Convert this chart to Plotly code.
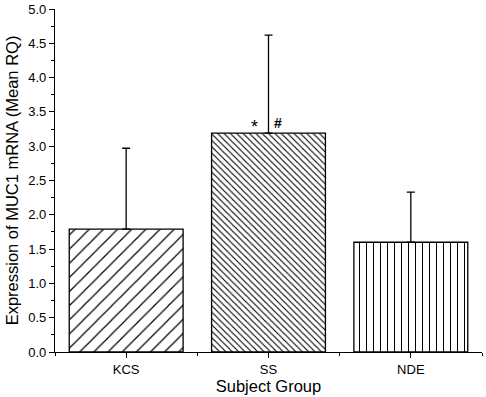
import plotly.graph_objects as go

categories = ["KCS", "SS", "NDE"]
means = [1.79, 3.19, 1.60]
errors_plus = [1.18, 1.43, 0.73]
significance_labels = ["*", "#"]

x_pos = list(range(len(categories)))
FONT = "Liberation Sans, Arial, sans-serif"

fig = go.Figure()
fig.add_trace(go.Bar(
    x=x_pos, y=means, width=0.8,
    marker=dict(
        color="white",
        line=dict(color="black", width=1.3),
        pattern=dict(shape=["/", "\\", "|"], size=[10, 4.5, 7],
                     solidity=[0.12, 0.25, 0.15],
                     fgcolor="black", bgcolor="white", fillmode="replace"),
    ),
    error_y=dict(type="data", symmetric=False, array=errors_plus,
                 arrayminus=[0] * len(means), color="black",
                 thickness=1.3, width=4),
    showlegend=False,
))

# significance markers above SS bar
fig.add_annotation(x=x_pos[1] - 0.1, y=means[1], text=significance_labels[0],
                   showarrow=False, yanchor="bottom", yshift=-6,
                   font=dict(family=FONT, size=18, color="black"))
fig.add_annotation(x=x_pos[1] + 0.065, y=means[1], text="<b>" + significance_labels[1] + "</b>",
                   showarrow=False, yanchor="bottom", yshift=0,
                   font=dict(family=FONT, size=14, color="black"))

fig.update_layout(
    width=486, height=397,
    margin=dict(l=55, r=4, t=9, b=45),
    paper_bgcolor="white", plot_bgcolor="white",
    font=dict(family=FONT, size=13, color="black"),
    bargap=0.2,
)
fig.update_xaxes(
    range=[-0.5, 2.5], tickvals=x_pos, ticktext=categories,
    showline=True, linecolor="black", linewidth=1.3,
    ticks="outside", ticklen=5, tickwidth=1.3, tickcolor="black",
    minor=dict(ticks="outside", ticklen=3, tickwidth=1.3, tickcolor="black",
               tick0=-0.5, dtick=1),
    showgrid=False, zeroline=False, automargin=False,
    title=dict(text="Subject Group", font=dict(size=16.5), standoff=0),
    tickfont=dict(size=13),
)
fig.update_yaxes(
    range=[0, 5], dtick=0.5, tick0=0, tickformat=".1f",
    showline=True, linecolor="black", linewidth=1.3,
    ticks="outside", ticklen=5, tickwidth=1.3, tickcolor="black",
    minor=dict(ticks="outside", ticklen=3, tickwidth=1.3, tickcolor="black",
               dtick=0.25),
    showgrid=False, zeroline=False, automargin=False,
    title=dict(text="Expression of MUC1 mRNA (Mean RQ)", font=dict(size=16.5), standoff=5),
    tickfont=dict(size=13),
)

fig.write_html("out.html", config={"displayModeBar": False},
               post_script="document.body.style.margin='0';")
